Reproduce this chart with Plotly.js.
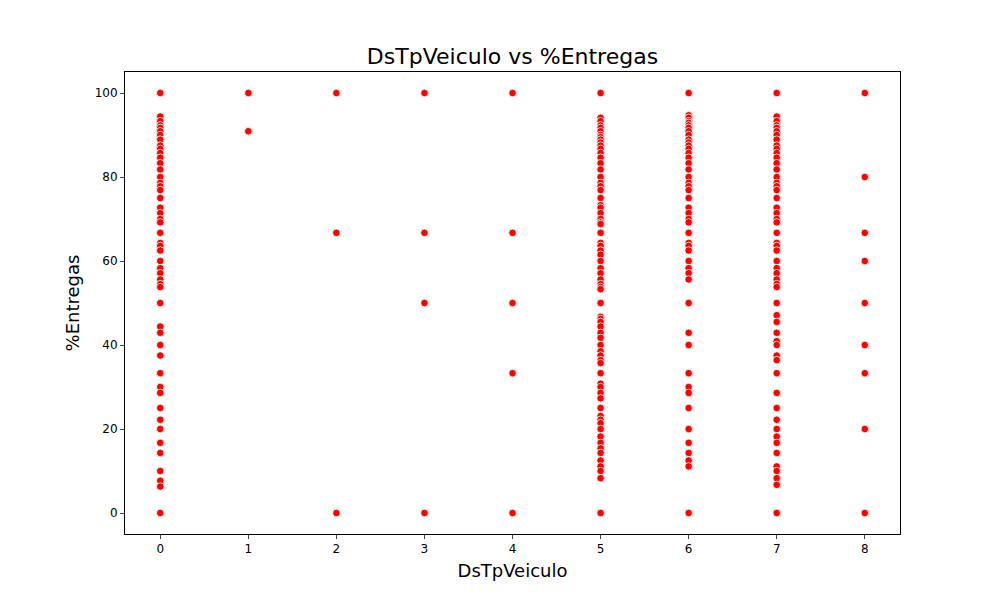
<!DOCTYPE html>
<html>
<head>
<meta charset="utf-8">
<script src="https://cdn.plot.ly/plotly-3.0.1.min.js"></script>
<style>body{margin:0}#chart{width:1000px;height:600px}</style>
</head>
<body>
<div id="chart"></div>
<script>
// %Entregas values observed for each vehicle type
var tipo0 = [100, 94.4, 93.3, 92.3, 91.7, 90.9, 90, 88.9, 87.5, 86.7, 85.7, 84.6, 83.3, 81.8, 80, 78.6, 77.8, 76.9, 75, 72.7, 71.4, 70, 69.2, 66.7, 64.3, 63.6, 62.5, 60, 58.3, 57.1, 55.6, 54.5, 53.8, 50, 44.4, 42.9, 40, 37.5, 33.3, 30, 28.6, 25, 22.2, 20, 16.7, 14.3, 10, 7.7, 6.3, 0];
var tipo1 = [100, 90.9];
var tipo2 = [100, 66.7, 0];
var tipo3 = [100, 66.7, 50, 0];
var tipo4 = [100, 66.7, 50, 33.3, 0];
var tipo5 = [100, 94.1, 93.3, 92.3, 91.7, 90.9, 90, 89.5, 88.9, 88.2, 87.5, 86.7, 85.7, 84.6, 83.3, 81.8, 80, 78.6, 77.8, 76.9, 75, 73.3, 72.7, 71.4, 70, 69.2, 68.8, 66.7, 64.3, 63.6, 62.5, 61.5, 60, 58.3, 57.1, 55.6, 54.5, 53.8, 53.3, 50, 46.7, 46.2, 45.5, 44.4, 42.9, 41.7, 40, 38.5, 37.5, 36.4, 35.7, 33.3, 30.8, 30, 28.6, 27.3, 25, 23.1, 22.2, 21.4, 20, 18.2, 16.7, 15.4, 14.3, 12.5, 11.1, 10, 8.3, 0];
var tipo6 = [100, 94.7, 94.1, 93.3, 92.9, 92.3, 91.7, 90.9, 90, 88.9, 88.2, 87.5, 86.7, 85.7, 84.6, 83.3, 81.8, 80, 78.6, 77.8, 76.9, 75, 72.7, 71.4, 70, 69.2, 66.7, 64.3, 63.6, 62.5, 60, 58.3, 57.1, 55.6, 50, 42.9, 40, 33.3, 30, 28.6, 25, 20, 16.7, 14.3, 12.5, 11.1, 0];
var tipo7 = [100, 94.4, 93.3, 92.3, 91.7, 90.9, 90, 88.9, 87.5, 86.7, 85.7, 84.6, 83.3, 81.8, 80, 78.6, 77.8, 76.9, 75, 72.7, 71.4, 70, 69.2, 66.7, 64.3, 63.6, 62.5, 60, 58.3, 57.1, 55.6, 54.5, 53.8, 50, 47.1, 45.5, 42.9, 40.9, 40, 37.5, 36.4, 33.3, 28.6, 25, 22.2, 20, 18.2, 16.7, 14.3, 11.1, 10, 8.3, 6.7, 0];
var tipo8 = [100, 80, 66.7, 60, 50, 40, 33.3, 20, 0];

var grupos = [tipo0, tipo1, tipo2, tipo3, tipo4, tipo5, tipo6, tipo7, tipo8];

var xvals = [], yvals = [];
for (var g = 0; g < grupos.length; g++) {
  for (var i = 0; i < grupos[g].length; i++) {
    xvals.push(g);
    yvals.push(grupos[g][i]);
  }
}

var data = [{
  x: xvals,
  y: yvals,
  type: 'scatter',
  mode: 'markers',
  marker: {color: 'red', size: 7.5, line: {color: 'white', width: 0.8}},
  hoverinfo: 'x+y'
}];

var layout = {
  width: 1000, height: 600,
  margin: {l: 125, r: 100, t: 72, b: 66},
  font: {family: 'DejaVu Sans', size: 12, color: 'black'},
  title: {text: 'DsTpVeiculo vs %Entregas', font: {size: 22}, xref: 'paper', x: 0.5, y: 0.906, yanchor: 'middle'},
  showlegend: false,
  plot_bgcolor: 'white',
  paper_bgcolor: 'white',
  xaxis: {
    title: {text: 'DsTpVeiculo', font: {size: 18}, standoff: 8},
    range: [-0.4, 8.4], tickvals: [0, 1, 2, 3, 4, 5, 6, 7, 8],
    showgrid: false, zeroline: false, showline: true, mirror: true,
    linecolor: 'black', linewidth: 1, ticks: 'outside', ticklen: 4
  },
  yaxis: {
    title: {text: '%Entregas', font: {size: 18}, standoff: 10},
    range: [-5, 105], tickvals: [0, 20, 40, 60, 80, 100],
    showgrid: false, zeroline: false, showline: true, mirror: true,
    linecolor: 'black', linewidth: 1, ticks: 'outside', ticklen: 4
  }
};

Plotly.newPlot('chart', data, layout, {displayModeBar: false});
</script>
</body>
</html>
